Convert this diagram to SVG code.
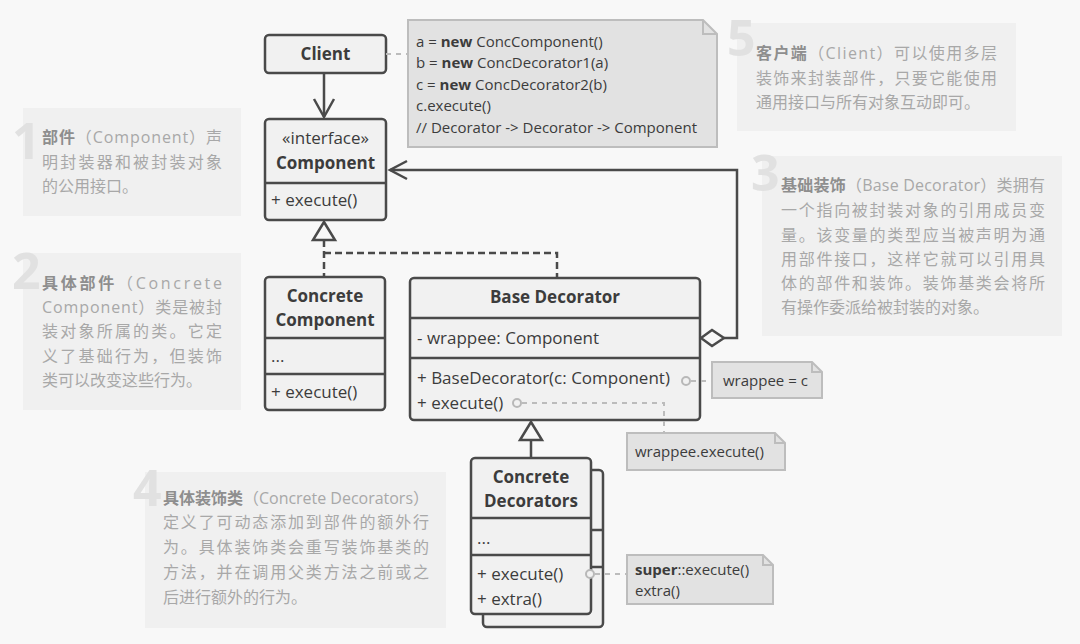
<svg xmlns="http://www.w3.org/2000/svg" width="1080" height="644" viewBox="0 0 1080 644">
<style>
.box{fill:#f1f1f1;stroke:#4a4a4a;stroke-width:2.5}
.ln{stroke:#4a4a4a;stroke-width:2.5;fill:none}
.t{font-family:"Open Sans","Noto Sans",sans-serif;font-size:17px;fill:#3c3c3c}
.b{font-weight:bold}
.note{fill:#e2e2e2;stroke:#bdbdbd;stroke-width:2}
.nt{font-family:"Open Sans","Noto Sans",sans-serif;font-size:15px;fill:#3c3c3c}
.nc{stroke:#bcbcbc;stroke-width:2;stroke-dasharray:5 5;fill:none}
.dot{fill:#f1f1f1;stroke:#b8b8b8;stroke-width:2}
.dash{stroke:#4a4a4a;stroke-width:2.5;stroke-dasharray:7 4;fill:none}
.panel{fill:#f0f0f0}
.num{font-family:"Open Sans","Noto Sans",sans-serif;font-weight:bold;font-size:50px;fill:#e1e1e1}
.pt{font-family:"Open Sans","Noto Sans CJK SC",sans-serif;font-size:16px;fill:#a8a8a8}
.pb{font-weight:bold;fill:#8e8e8e}
</style>
<rect width="1080" height="644" fill="#f8f8f8"/>

<g id="panel1">
<rect class="panel" x="23" y="108" width="218" height="108"/>
<text class="num" x="12" y="159">1</text>
<text class="pt" x="42" y="143" textLength="180" lengthAdjust="spacing"><tspan class="pb">部件</tspan>（Component）声</text>
<text class="pt" x="42" y="168" textLength="180" lengthAdjust="spacing">明封装器和被封装对象</text>
<text class="pt" x="42" y="192">的公用接口。</text>
</g>

<g id="panel2">
<rect class="panel" x="23" y="253" width="218" height="157"/>
<text class="num" x="12" y="289">2</text>
<text class="pt" x="42" y="289" textLength="180" lengthAdjust="spacing"><tspan class="pb">具体部件</tspan>（Concrete</text>
<text class="pt" x="42" y="313" textLength="180" lengthAdjust="spacing">Component）类是被封</text>
<text class="pt" x="42" y="337" textLength="180" lengthAdjust="spacing">装对象所属的类。它定</text>
<text class="pt" x="42" y="362" textLength="180" lengthAdjust="spacing">义了基础行为，但装饰</text>
<text class="pt" x="42" y="386">类可以改变这些行为。</text>
</g>

<g id="panel5">
<rect class="panel" x="737" y="23" width="279" height="108"/>
<text class="num" x="727" y="56">5</text>
<text class="pt" x="756" y="59" textLength="241" lengthAdjust="spacing"><tspan class="pb">客户端</tspan>（Client）可以使用多层</text>
<text class="pt" x="756" y="84" textLength="241" lengthAdjust="spacing">装饰来封装部件，只要它能使用</text>
<text class="pt" x="756" y="108">通用接口与所有对象互动即可。</text>
</g>

<g id="panel3">
<rect class="panel" x="762" y="156" width="300" height="180"/>
<text class="num" x="751" y="191">3</text>
<text class="pt" x="781" y="191" textLength="264" lengthAdjust="spacing"><tspan class="pb">基础装饰</tspan>（Base Decorator）类拥有</text>
<text class="pt" x="781" y="216" textLength="264" lengthAdjust="spacing">一个指向被封装对象的引用成员变</text>
<text class="pt" x="781" y="241" textLength="264" lengthAdjust="spacing">量。该变量的类型应当被声明为通</text>
<text class="pt" x="781" y="265" textLength="264" lengthAdjust="spacing">用部件接口，这样它就可以引用具</text>
<text class="pt" x="781" y="289" textLength="264" lengthAdjust="spacing">体的部件和装饰。装饰基类会将所</text>
<text class="pt" x="781" y="313">有操作委派给被封装的对象。</text>
</g>

<g id="panel4">
<rect class="panel" x="145" y="472" width="301" height="156"/>
<text class="num" x="133" y="506">4</text>
<text class="pt" x="163" y="504" textLength="266" lengthAdjust="spacing"><tspan class="pb">具体装饰类</tspan>（Concrete Decorators）</text>
<text class="pt" x="163" y="528" textLength="266" lengthAdjust="spacing">定义了可动态添加到部件的额外行</text>
<text class="pt" x="163" y="553" textLength="266" lengthAdjust="spacing">为。具体装饰类会重写装饰基类的</text>
<text class="pt" x="163" y="578" textLength="266" lengthAdjust="spacing">方法，并在调用父类方法之前或之</text>
<text class="pt" x="163" y="603">后进行额外的行为。</text>
</g>

<g id="client">
<rect class="box" x="265" y="35" width="121" height="38" rx="4"/>
<text class="t b" x="325.5" y="60" text-anchor="middle">Client</text>
</g>

<g id="component">
<rect class="box" x="265" y="119" width="121" height="101" rx="4"/>
<line class="ln" x1="265" y1="183" x2="386" y2="183"/>
<text class="t" x="325.5" y="144" text-anchor="middle">«interface»</text>
<text class="t b" x="325.5" y="169" text-anchor="middle">Component</text>
<text class="t" x="271" y="206">+ execute()</text>
</g>

<g id="concrete-component">
<rect class="box" x="265" y="277" width="120" height="133" rx="4"/>
<line class="ln" x1="265" y1="338" x2="385" y2="338"/>
<line class="ln" x1="265" y1="374" x2="385" y2="374"/>
<text class="t b" x="325" y="302" text-anchor="middle">Concrete</text>
<text class="t b" x="325" y="326" text-anchor="middle">Component</text>
<text class="t" x="271" y="362">...</text>
<text class="t" x="271" y="398">+ execute()</text>
</g>

<g id="base-decorator">
<rect class="box" x="410" y="278" width="290" height="142" rx="4"/>
<line class="ln" x1="410" y1="318" x2="700" y2="318"/>
<line class="ln" x1="410" y1="358" x2="700" y2="358"/>
<text class="t b" x="555" y="303" text-anchor="middle">Base Decorator</text>
<text class="t" x="417" y="344">- wrappee: Component</text>
<text class="t" x="417" y="384">+ BaseDecorator(c: Component)</text>
<text class="t" x="417" y="409">+ execute()</text>
</g>

<g id="concrete-decorators">
<rect class="box" x="483" y="470" width="120" height="157" rx="4"/>
<line class="ln" x1="483" y1="530" x2="603" y2="530"/>
<line class="ln" x1="483" y1="567" x2="603" y2="567"/>
<rect class="box" x="471" y="458" width="120" height="156" rx="4"/>
<line class="ln" x1="471" y1="518" x2="591" y2="518"/>
<line class="ln" x1="471" y1="555" x2="591" y2="555"/>
<text class="t b" x="531" y="483" text-anchor="middle">Concrete</text>
<text class="t b" x="531" y="507" text-anchor="middle">Decorators</text>
<text class="t" x="477" y="544">...</text>
<text class="t" x="477" y="580">+ execute()</text>
<text class="t" x="477" y="605">+ extra()</text>
</g>

<g id="note-client">
<path class="note" d="M408,20 H703 L717,34 V147 H408 Z"/>
<path d="M703,20 V34 H717" fill="none" stroke="#bdbdbd" stroke-width="2"/>
<text class="nt" x="416" y="47">a = <tspan font-weight="bold">new</tspan> ConcComponent()</text>
<text class="nt" x="416" y="68">b = <tspan font-weight="bold">new</tspan> ConcDecorator1(a)</text>
<text class="nt" x="416" y="90">c = <tspan font-weight="bold">new</tspan> ConcDecorator2(b)</text>
<text class="nt" x="416" y="111">c.execute()</text>
<text class="nt" x="416" y="133" fill="#8a8a8a">// Decorator -&gt; Decorator -&gt; Component</text>
</g>

<g id="note-wrappee-c">
<path class="note" d="M712,362 H812 L822,372 V398 H712 Z"/>
<path d="M812,362 V372 H822" fill="none" stroke="#bdbdbd" stroke-width="2"/>
<text class="nt" x="723" y="386">wrappee = c</text>
</g>

<g id="note-wrappee-execute">
<path class="note" d="M627,433 H775 L785,443 V470 H627 Z"/>
<path d="M775,433 V443 H785" fill="none" stroke="#bdbdbd" stroke-width="2"/>
<text class="nt" x="635" y="457">wrappee.execute()</text>
</g>

<g id="note-super">
<path class="note" d="M627,555 H763 L773,565 V604 H627 Z"/>
<path d="M763,555 V565 H773" fill="none" stroke="#bdbdbd" stroke-width="2"/>
<text class="nt" x="635" y="575"><tspan font-weight="bold">super</tspan>::execute()</text>
<text class="nt" x="635" y="596">extra()</text>
</g>

<g id="connectors">
<line class="ln" x1="324" y1="73" x2="324" y2="117"/>
<polyline class="ln" points="314,99 324,117 334,99"/>
<path class="dash" d="M324,240 V277 M324,253 H557 V278"/>
<polygon points="324,222 313,240 335,240" fill="#f8f8f8" stroke="#4a4a4a" stroke-width="2.5"/>
<polyline class="ln" points="724,338 737,338 737,170 390,170"/>
<polyline class="ln" points="407,161 390,170 407,179"/>
<polygon points="701,338 712,330 724,338 712,346" fill="#f8f8f8" stroke="#4a4a4a" stroke-width="2.5"/>
<line class="ln" x1="531" y1="440" x2="531" y2="458"/>
<polygon points="531,422 520,440 542,440" fill="#f8f8f8" stroke="#4a4a4a" stroke-width="2.5"/>
<line class="nc" x1="386" y1="54" x2="408" y2="54"/>
<line class="nc" x1="691" y1="381" x2="712" y2="381"/>
<polyline class="nc" points="522,403 664,403 664,433"/>
<line class="nc" x1="595" y1="574" x2="627" y2="574"/>
<circle class="dot" cx="686" cy="381" r="4"/>
<circle class="dot" cx="517" cy="403" r="4"/>
<circle class="dot" cx="590" cy="574" r="4"/>
</g>
</svg>
